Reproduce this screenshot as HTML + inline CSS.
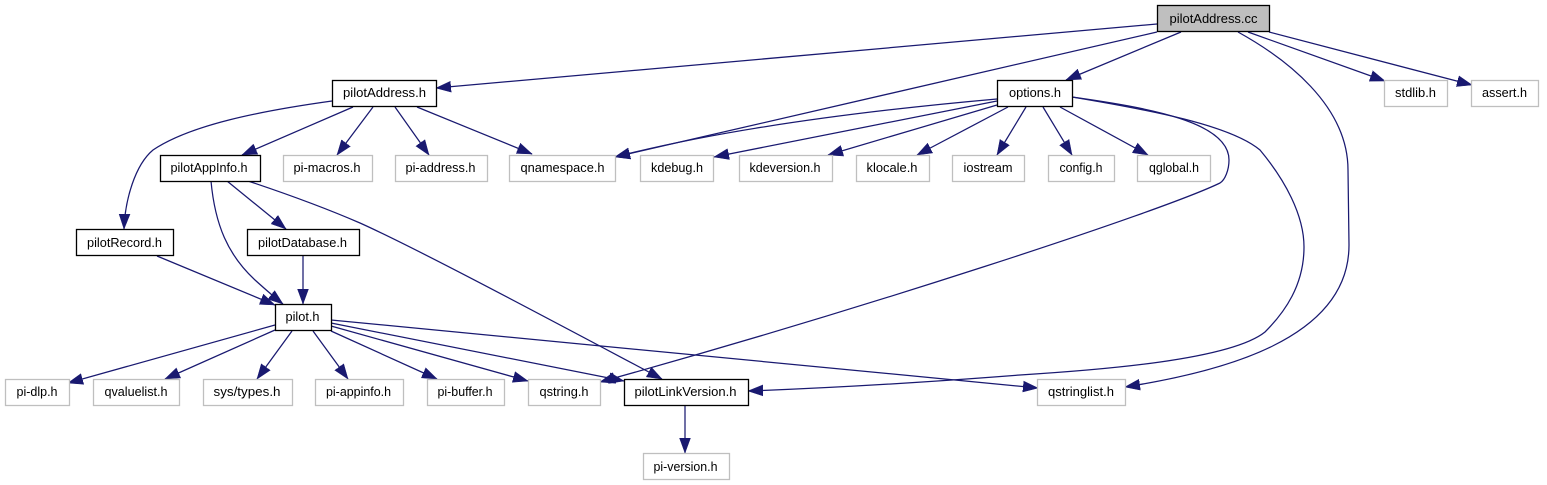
<!DOCTYPE html>
<html><head><meta charset="utf-8"><style>
html,body{margin:0;padding:0;background:#fff;width:1547px;height:485px;overflow:hidden}
svg{display:block}
text{font-family:"Liberation Sans",Arial,sans-serif;font-size:13.33px;text-anchor:middle;fill:#000}
.b{fill:#fff;stroke:#000;stroke-width:1.3}
.g{fill:#fff;stroke:#bfbfbf;stroke-width:1.3}
path{fill:none;stroke:#191970;stroke-width:1.25;marker-end:url(#a)}
</style></head><body>
<svg width="1547" height="485" viewBox="0 0 1547 485" xmlns="http://www.w3.org/2000/svg">
<defs><marker id="a" markerUnits="userSpaceOnUse" markerWidth="18" markerHeight="14" refX="15" refY="7" orient="auto"><polygon points="0,1.5 15,7 0,12.5" fill="#191970" stroke="#191970" stroke-width="0.5"/></marker></defs>

<path d="M1157,24 L436,88"/>
<path d="M1157,32 L615,157"/>
<path d="M1181,32 L1066,80"/>
<path d="M1248,32 L1385,81"/>
<path d="M1269,32 L1472,85"/>
<path d="M1238,32 C1285,58 1348,105 1348,170 L1349,245 C1349,340 1220,372 1125,387"/>
<path d="M1072,97 C1150,108 1229,122 1229,160 C1229,170 1225,180 1220,183 C1160,212 860,310 600,382"/>
<path d="M1072,97 C1150,110 1230,125 1260,150 C1285,180 1304,215 1304,247 C1304,285 1285,312 1265,332 C1230,360 1100,370 1020,375 C930,382 830,388 748,391"/>
<path d="M997,99 C850,112 720,130 615,157"/>
<path d="M997,101 L714,157"/>
<path d="M997,105 L828,155"/>
<path d="M1008,107 L917,155"/>
<path d="M1026,107 L997,155"/>
<path d="M1043,107 L1072,155"/>
<path d="M1060,107 L1148,155"/>
<path d="M332,101 C260,111 190,125 153,150 C135,165 125,200 124,229"/>
<path d="M353,107 L242,155"/>
<path d="M373,107 L337,155"/>
<path d="M395,107 L429,155"/>
<path d="M417,107 L532,154"/>
<path d="M211,181 C215,225 228,255 255,280 C265,289 274,297 283,304"/>
<path d="M227,181 L286,229"/>
<path d="M248,181 C290,195 330,210 360,223 C420,250 560,325 662,379"/>
<path d="M157,256 L275,305"/>
<path d="M303,256 L303,304"/>
<path d="M275,325 L68,383"/>
<path d="M275,330 L165,379"/>
<path d="M292,331 L257,379"/>
<path d="M313,331 L348,379"/>
<path d="M331,331 L437,379"/>
<path d="M331,326 L528,381"/>
<path d="M331,323 L624,381"/>
<path d="M331,320 L1038,388"/>
<path d="M685,405 L685,453"/>

<rect x="1157.5" y="5.5" width="112" height="26" fill="#bfbfbf" stroke="#000" stroke-width="1.3"/><text x="1213.5" y="23" textLength="88" lengthAdjust="spacingAndGlyphs">pilotAddress.cc</text>
<rect class="b" x="332.5" y="80.5" width="104" height="26"/><text x="384.5" y="97" textLength="83" lengthAdjust="spacingAndGlyphs">pilotAddress.h</text>
<rect class="b" x="997.5" y="80.5" width="75" height="26"/><text x="1035" y="97" textLength="52" lengthAdjust="spacingAndGlyphs">options.h</text>
<rect class="g" x="1384.5" y="80.5" width="63" height="26"/><text x="1415.5" y="97" textLength="41" lengthAdjust="spacingAndGlyphs">stdlib.h</text>
<rect class="g" x="1471.5" y="80.5" width="67" height="26"/><text x="1504.5" y="97" textLength="45" lengthAdjust="spacingAndGlyphs">assert.h</text>
<rect class="b" x="160.5" y="155.5" width="100" height="26"/><text x="209" y="172" textLength="77" lengthAdjust="spacingAndGlyphs">pilotAppInfo.h</text>
<rect class="g" x="283.5" y="155.5" width="89" height="26"/><text x="327" y="172" textLength="67" lengthAdjust="spacingAndGlyphs">pi-macros.h</text>
<rect class="g" x="395.5" y="155.5" width="92" height="26"/><text x="440.5" y="172" textLength="70" lengthAdjust="spacingAndGlyphs">pi-address.h</text>
<rect class="g" x="509.5" y="155.5" width="106" height="26"/><text x="562.5" y="172" textLength="84" lengthAdjust="spacingAndGlyphs">qnamespace.h</text>
<rect class="g" x="640.5" y="155.5" width="73" height="26"/><text x="677" y="172" textLength="52" lengthAdjust="spacingAndGlyphs">kdebug.h</text>
<rect class="g" x="739.5" y="155.5" width="93" height="26"/><text x="785" y="172" textLength="71" lengthAdjust="spacingAndGlyphs">kdeversion.h</text>
<rect class="g" x="856.5" y="155.5" width="73" height="26"/><text x="892" y="172" textLength="51" lengthAdjust="spacingAndGlyphs">klocale.h</text>
<rect class="g" x="952.5" y="155.5" width="72" height="26"/><text x="988" y="172" textLength="49" lengthAdjust="spacingAndGlyphs">iostream</text>
<rect class="g" x="1048.5" y="155.5" width="66" height="26"/><text x="1081" y="172" textLength="43" lengthAdjust="spacingAndGlyphs">config.h</text>
<rect class="g" x="1137.5" y="155.5" width="73" height="26"/><text x="1174" y="172" textLength="50" lengthAdjust="spacingAndGlyphs">qglobal.h</text>
<rect class="b" x="76.5" y="229.5" width="97" height="26"/><text x="124.5" y="247" textLength="75" lengthAdjust="spacingAndGlyphs">pilotRecord.h</text>
<rect class="b" x="247.5" y="229.5" width="112" height="26"/><text x="302.5" y="247" textLength="89" lengthAdjust="spacingAndGlyphs">pilotDatabase.h</text>
<rect class="b" x="275.5" y="304.5" width="56" height="26"/><text x="302.5" y="321" textLength="34" lengthAdjust="spacingAndGlyphs">pilot.h</text>
<rect class="g" x="5.5" y="379.5" width="64" height="26"/><text x="37" y="396" textLength="41" lengthAdjust="spacingAndGlyphs">pi-dlp.h</text>
<rect class="g" x="93.5" y="379.5" width="86" height="26"/><text x="136" y="396" textLength="63" lengthAdjust="spacingAndGlyphs">qvaluelist.h</text>
<rect class="g" x="203.5" y="379.5" width="89" height="26"/><text x="247" y="396" textLength="67" lengthAdjust="spacingAndGlyphs">sys/types.h</text>
<rect class="g" x="315.5" y="379.5" width="88" height="26"/><text x="358.5" y="396" textLength="65" lengthAdjust="spacingAndGlyphs">pi-appinfo.h</text>
<rect class="g" x="427.5" y="379.5" width="77" height="26"/><text x="465" y="396" textLength="55" lengthAdjust="spacingAndGlyphs">pi-buffer.h</text>
<rect class="g" x="528.5" y="379.5" width="72" height="26"/><text x="564" y="396" textLength="49" lengthAdjust="spacingAndGlyphs">qstring.h</text>
<rect class="b" x="624.5" y="379.5" width="124" height="26"/><text x="685.5" y="396" textLength="102" lengthAdjust="spacingAndGlyphs">pilotLinkVersion.h</text>
<rect class="g" x="1037.5" y="379.5" width="88" height="26"/><text x="1081" y="396" textLength="66" lengthAdjust="spacingAndGlyphs">qstringlist.h</text>
<rect class="g" x="643.5" y="453.5" width="86" height="26"/><text x="685.5" y="471" textLength="64" lengthAdjust="spacingAndGlyphs">pi-version.h</text>
</svg>
</body></html>
